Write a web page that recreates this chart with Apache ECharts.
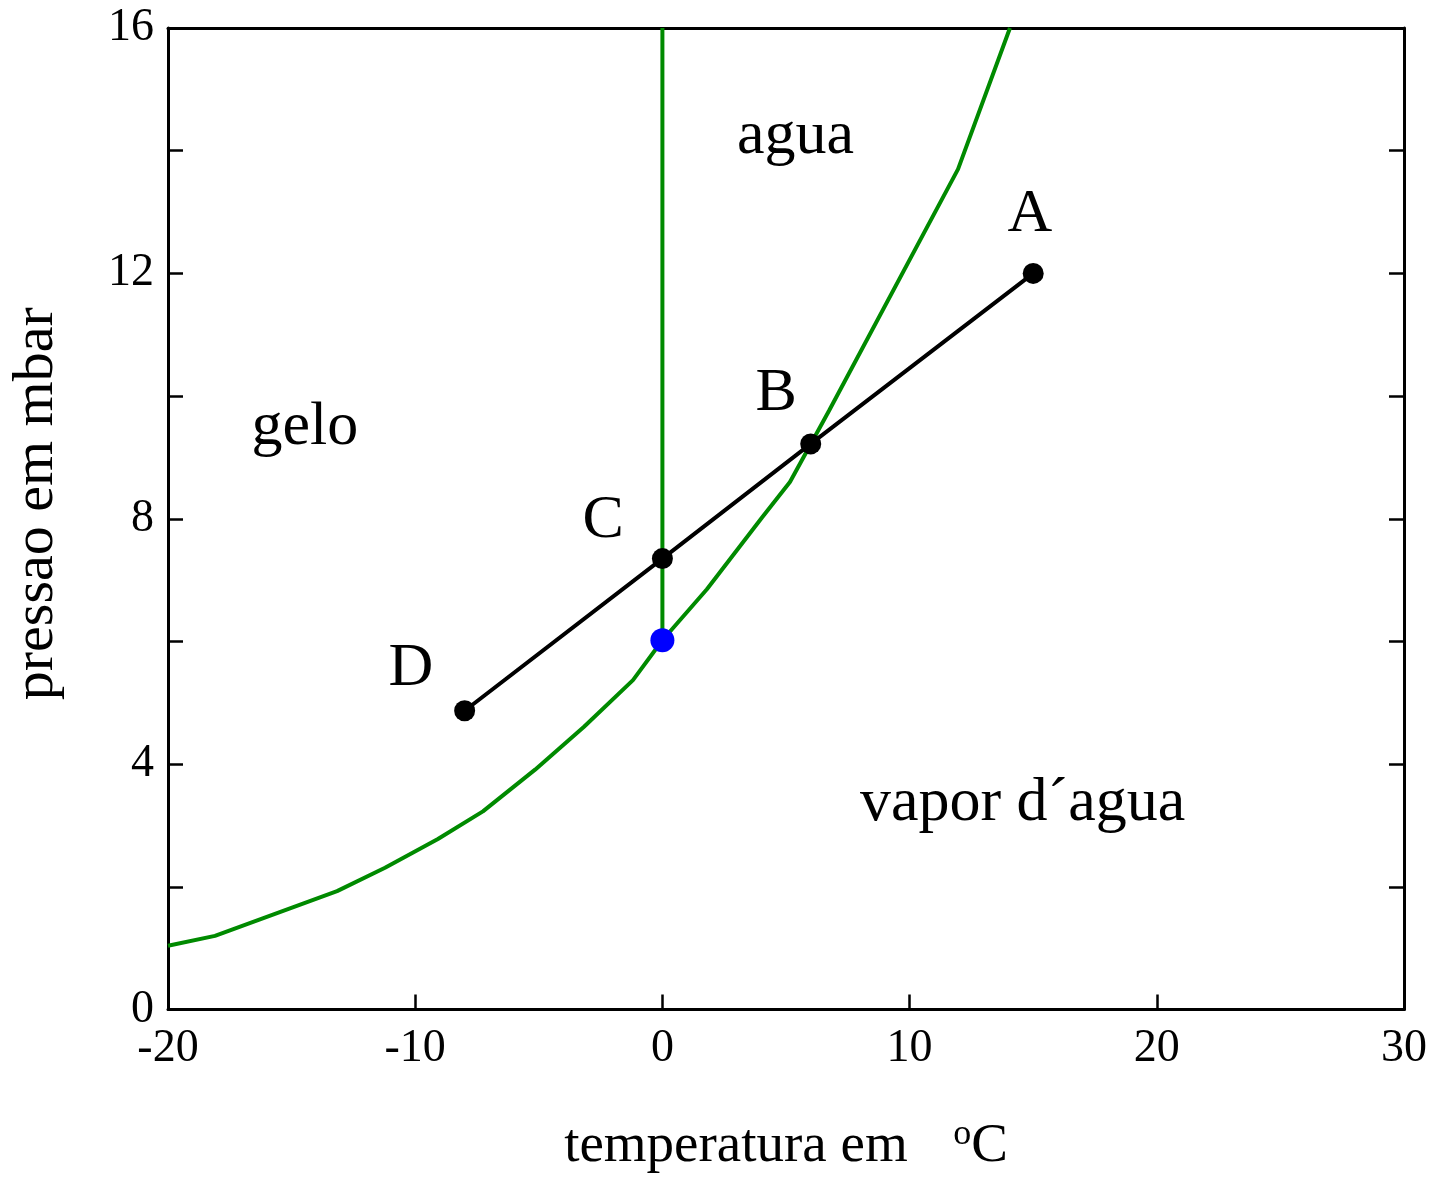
<!DOCTYPE html>
<html>
<head>
<meta charset="utf-8">
<title>diagrama de fases</title>
<script src="https://cdn.jsdelivr.net/npm/echarts@6/dist/echarts.min.js"></script>
<style>
  html, body { margin: 0; padding: 0; background: #fff; }
  #chart { width: 1434px; height: 1179px; }
</style>
</head>
<body>
<div id="chart"></div>
<script>
// curva de sublimacao + vaporizacao
const curveTemp = [-20, -18.1, -13.16, -11.22, -9.08, -7.26, -5.15, -3.17, -1.19, 0, 1.8, 4.03, 5.16, 6.74, 11.96, 14.06];
const curvePres = [1.04, 1.2, 1.93, 2.31, 2.78, 3.23, 3.91, 4.61, 5.37, 6.02, 6.85, 8.02, 8.6, 9.76, 13.7, 16.0];

// linha de fusao
const meltTemp = [0, 0];
const meltPres = [6.02, 16];

// caminho D - C - B - A
const pathTemp = [-8, 0, 6, 15];
const pathPres = [4.87, 7.35, 9.22, 12.0];

// ponto triplo
const tripleTemp = [0];
const triplePres = [6.02];

// rotulos
const letterNames = ['A', 'B', 'C', 'D'];
const letterTemp = [14.87, 4.6, -2.4, -10.17];
const letterPres = [12.96, 10.04, 7.96, 5.56];

const regionNames = ['agua', 'gelo', 'vapor d\u00b4agua'];
const regionTemp = [5.38, -14.46, 14.57];
const regionPres = [14.23, 9.48, 3.35];

const xTicks = [-20, -10, 0, 10, 20, 30];
const yTicks = [0, 4, 8, 12, 16];

const pairs = (xs, ys) => xs.map((x, i) => [x, ys[i]]);
const named = (names, xs, ys) => names.map((n, i) => ({ name: n, value: [xs[i], ys[i]] }));

const FONT = 'Liberation Serif';
const chart = echarts.init(document.getElementById('chart'));

const axisLine = { show: true, onZero: false, lineStyle: { color: '#000', width: 3 } };
const tickStyle = { show: true, inside: true, length: 15, lineStyle: { color: '#000', width: 2.5 } };

const textLabel = {
  show: true, position: 'inside', formatter: '{b}',
  fontFamily: FONT, fontSize: 62, color: '#000', opacity: 1
};

chart.setOption({
  animation: false,
  backgroundColor: '#fff',
  grid: { left: 168, right: 30, top: 28, bottom: 165 },
  xAxis: [
    {
      type: 'value', position: 'bottom',
      min: -20, max: 30, interval: 10,
      axisLine: axisLine,
      axisTick: tickStyle,
      splitLine: { show: false },
      axisLabel: {
        color: '#000', fontFamily: FONT, fontSize: 46, margin: 16,
        formatter: v => xTicks.includes(v) ? String(v) : ''
      },
      name: '{t|temperatura em  }{s|o}{t|C}',
      nameLocation: 'middle',
      nameGap: 107,
      nameTextStyle: {
        rich: {
          t: { fontFamily: FONT, fontSize: 55, color: '#000', lineHeight: 60 },
          s: { fontFamily: FONT, fontSize: 36, color: '#000', lineHeight: 36, verticalAlign: 'top', padding: [0, 0, 6, 18] }
        }
      }
    },
    {
      type: 'value', position: 'top',
      min: -20, max: 30, interval: 10,
      axisLine: axisLine,
      axisTick: { show: false },
      axisLabel: { show: false },
      splitLine: { show: false }
    }
  ],
  yAxis: [
    {
      type: 'value', position: 'left',
      min: 0, max: 16, interval: 2,
      axisLine: axisLine,
      axisTick: tickStyle,
      splitLine: { show: false },
      axisLabel: {
        color: '#000', fontFamily: FONT, fontSize: 46, margin: 14,
        formatter: v => yTicks.includes(v) ? String(v) : ''
      },
      name: 'pressao em mbar',
      nameLocation: 'middle',
      nameGap: 102,
      nameTextStyle: { fontFamily: FONT, fontSize: 58, color: '#000', padding: [0, 0, 0, 30] }
    },
    {
      type: 'value', position: 'right',
      min: 0, max: 16, interval: 2,
      axisLine: axisLine,
      axisTick: tickStyle,
      axisLabel: { show: false },
      splitLine: { show: false }
    }
  ],
  series: [
    {
      type: 'line', name: 'vapor',
      data: pairs(curveTemp, curvePres),
      showSymbol: false, symbol: 'none',
      lineStyle: { color: '#008a00', width: 4 },
      z: 2
    },
    {
      type: 'line', name: 'fusao',
      data: pairs(meltTemp, meltPres),
      showSymbol: false, symbol: 'none',
      lineStyle: { color: '#008a00', width: 4 },
      z: 2
    },
    {
      type: 'line', name: 'caminho',
      data: pairs(pathTemp, pathPres),
      symbol: 'circle', symbolSize: 21,
      itemStyle: { color: '#000', opacity: 1 },
      lineStyle: { color: '#000', width: 4 },
      z: 3
    },
    {
      type: 'scatter', name: 'triplo',
      data: pairs(tripleTemp, triplePres),
      symbol: 'circle', symbolSize: 24,
      itemStyle: { color: '#0000ff', opacity: 1 },
      z: 4
    },
    {
      type: 'scatter', name: 'letras',
      data: named(letterNames, letterTemp, letterPres),
      symbolSize: 1,
      itemStyle: { color: '#fff', opacity: 1 },
      label: textLabel,
      z: 5
    },
    {
      type: 'scatter', name: 'regioes',
      data: named(regionNames, regionTemp, regionPres),
      symbolSize: 1,
      itemStyle: { color: '#fff', opacity: 1 },
      label: textLabel,
      z: 5
    }
  ]
});
</script>
</body>
</html>
